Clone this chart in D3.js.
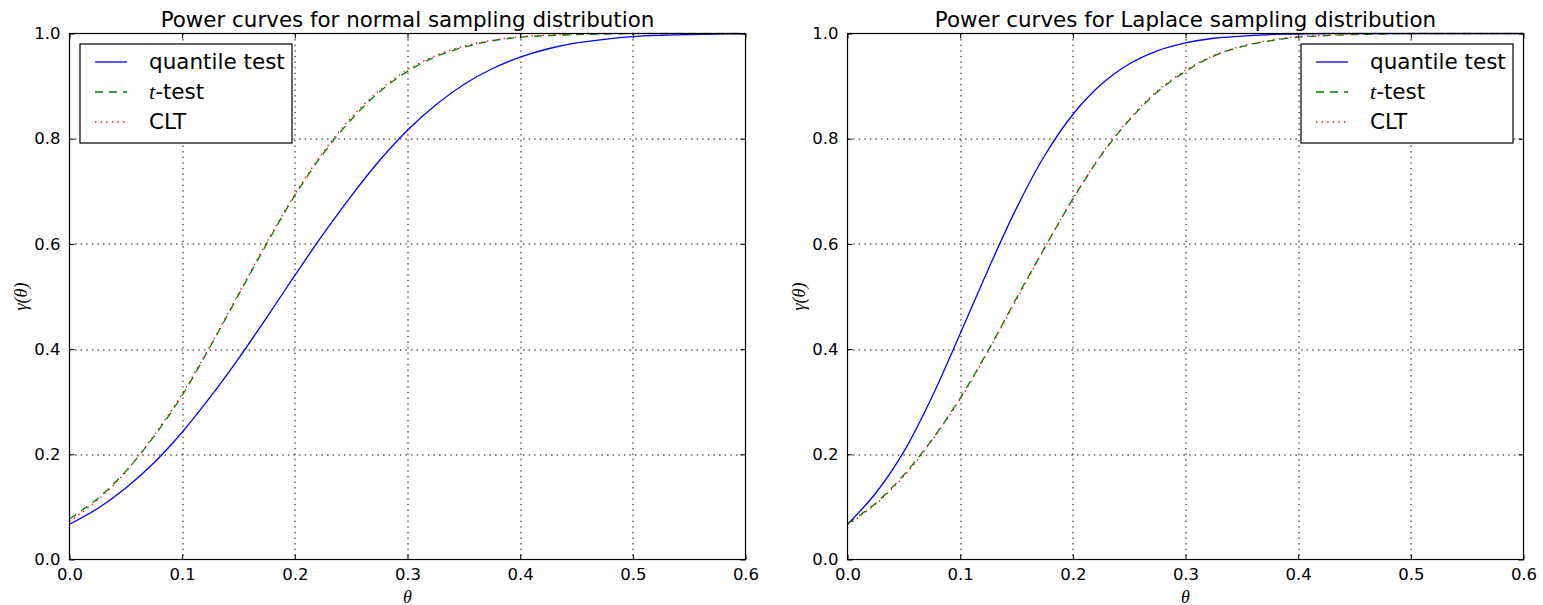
<!DOCTYPE html>
<html>
<head>
<meta charset="utf-8">
<script src="https://cdn.jsdelivr.net/npm/d3@7"></script>
<style>
  html, body { margin: 0; padding: 0; background: #fff; }
  svg { display: block; }
  text { font-family: "DejaVu Sans", sans-serif; fill: #000; }
  .math { font-family: "Liberation Serif", "DejaVu Serif", serif; font-style: italic; }
</style>
</head>
<body>
<svg id="fig" width="1543" height="605"></svg>
<script>
// Shift values θ at which each power curve is evaluated
const theta = [0, 0.025, 0.05, 0.075, 0.1, 0.125, 0.15, 0.175, 0.2, 0.225, 0.25, 0.275,
               0.3, 0.325, 0.35, 0.375, 0.4, 0.425, 0.45, 0.475, 0.5, 0.525, 0.55, 0.575, 0.6];

// Normal sampling distribution
const normalQuantile = [0.067, 0.097, 0.136, 0.184, 0.242, 0.309, 0.382, 0.460, 0.540, 0.618,
                        0.691, 0.758, 0.816, 0.864, 0.903, 0.933, 0.955, 0.971, 0.982, 0.989,
                        0.994, 0.9965, 0.998, 0.999, 0.9995];
const normalT        = [0.077, 0.116, 0.168, 0.234, 0.312, 0.405, 0.503, 0.600, 0.692, 0.771,
                        0.836, 0.889, 0.928, 0.956, 0.974, 0.986, 0.993, 0.996, 0.998, 0.999,
                        1.0, 1.0, 1.0, 1.0, 1.0];
const normalCLT      = [0.072, 0.113, 0.167, 0.236, 0.315, 0.407, 0.505, 0.603, 0.694, 0.774,
                        0.840, 0.892, 0.931, 0.958, 0.976, 0.987, 0.994, 0.997, 0.999, 1.0,
                        1.0, 1.0, 1.0, 1.0, 1.0];

// Laplace sampling distribution
const laplaceQuantile = [0.067, 0.126, 0.205, 0.309, 0.429, 0.552, 0.668, 0.768, 0.846, 0.903,
                         0.942, 0.967, 0.982, 0.991, 0.995, 0.998, 0.999, 1.0, 1.0, 1.0,
                         1.0, 1.0, 1.0, 1.0, 1.0];
const laplaceT        = [0.068, 0.107, 0.161, 0.228, 0.307, 0.398, 0.497, 0.593, 0.685, 0.768,
                         0.835, 0.889, 0.928, 0.957, 0.975, 0.986, 0.993, 0.996, 0.998, 0.999,
                         1.0, 1.0, 1.0, 1.0, 1.0];
const laplaceCLT      = [0.066, 0.105, 0.158, 0.226, 0.305, 0.396, 0.494, 0.592, 0.686, 0.769,
                         0.837, 0.891, 0.930, 0.958, 0.976, 0.987, 0.994, 0.997, 0.999, 1.0,
                         1.0, 1.0, 1.0, 1.0, 1.0];

const xTicks = [0, 0.1, 0.2, 0.3, 0.4, 0.5, 0.6];
const yTicks = [0, 0.2, 0.4, 0.6, 0.8, 1.0];
const seriesNames = ["quantile test", "t-test", "CLT"];

const panels = [
  { title: "Power curves for normal sampling distribution",
    series: [normalQuantile, normalT, normalCLT], left: 69.5, legend: "left" },
  { title: "Power curves for Laplace sampling distribution",
    series: [laplaceQuantile, laplaceT, laplaceCLT], left: 847.5, legend: "right" }
];

const styles = [
  { color: "#0000ff", dash: null },
  { color: "#008000", dash: "8,6" },
  { color: "#ff0000", dash: "1.4,4.2" }
];

const W = 676, H = 526, TOP = 33.5;
const svg = d3.select("#fig");

panels.forEach((p, pi) => {
  const g = svg.append("g").attr("transform", `translate(${p.left},${TOP})`);
  const x = d3.scaleLinear().domain([0, 0.6]).range([0, W]);
  const y = d3.scaleLinear().domain([0, 1]).range([H, 0]);

  // clip region for curves
  const clipId = "clip" + pi;
  g.append("clipPath").attr("id", clipId)
    .append("rect").attr("x", 0).attr("y", -1).attr("width", W).attr("height", H + 1);

  // dotted grid
  const grid = g.append("g");
  grid.selectAll("line.gx").data(xTicks.slice(1, -1)).join("line")
    .attr("x1", d => Math.round(x(d)) + 0.5).attr("x2", d => Math.round(x(d)) + 0.5)
    .attr("y1", 0).attr("y2", H)
    .attr("stroke", "#000").attr("stroke-width", 1).attr("stroke-dasharray", "1.4,4.2");
  grid.selectAll("line.gy").data(yTicks.slice(1, -1)).join("line")
    .attr("y1", d => Math.round(y(d)) + 0.5).attr("y2", d => Math.round(y(d)) + 0.5)
    .attr("x1", 0).attr("x2", W)
    .attr("stroke", "#000").attr("stroke-width", 1).attr("stroke-dasharray", "1.4,4.2");

  // curves
  const line = d3.line()
    .x((d, i) => x(theta[i]))
    .y(d => y(d))
    .curve(d3.curveCatmullRom.alpha(0.5));
  const curves = g.append("g").attr("clip-path", `url(#${clipId})`);
  p.series.forEach((s, si) => {
    curves.append("path").datum(s)
      .attr("d", line)
      .attr("fill", "none")
      .attr("stroke", styles[si].color)
      .attr("stroke-width", 1.3)
      .attr("stroke-dasharray", styles[si].dash);
  });

  // axes with inward ticks on all four sides
  const fmt = d3.format(".1f");
  const axB = d3.axisBottom(x).tickValues(xTicks).tickSizeInner(-5).tickSizeOuter(0).tickPadding(9).tickFormat(fmt);
  const axT = d3.axisTop(x).tickValues(xTicks).tickSizeInner(-5).tickSizeOuter(0).tickFormat("");
  const axL = d3.axisLeft(y).tickValues(yTicks).tickSizeInner(-5).tickSizeOuter(0).tickPadding(9).tickFormat(fmt);
  const axR = d3.axisRight(y).tickValues(yTicks).tickSizeInner(-5).tickSizeOuter(0).tickFormat("");

  const styleAxis = sel => {
    sel.select(".domain").remove();
    sel.selectAll(".tick line").attr("stroke", "#000").attr("stroke-width", 1);
    sel.selectAll(".tick text").style("font-family", "DejaVu Sans").style("font-size", "16.5px").attr("fill", "#000");
  };
  g.append("g").attr("transform", `translate(0,${H})`).call(axB).call(styleAxis);
  g.append("g").call(axT).call(styleAxis);
  g.append("g").call(axL).call(styleAxis);
  g.append("g").attr("transform", `translate(${W},0)`).call(axR).call(styleAxis);

  // frame
  g.append("rect").attr("x", 0).attr("y", 0).attr("width", W).attr("height", H)
    .attr("fill", "none").attr("stroke", "#000").attr("stroke-width", 1.2);

  // title
  g.append("text").attr("x", W / 2).attr("y", -7)
    .attr("text-anchor", "middle").style("font-size", "21.4px").text(p.title);

  // axis labels
  g.append("text").attr("class", "math").attr("x", W / 2).attr("y", H + 43)
    .attr("text-anchor", "middle").style("font-size", "18px").text("θ");
  g.append("text").attr("class", "math")
    .attr("transform", `translate(-43,${H / 2}) rotate(-90)`)
    .attr("text-anchor", "middle").style("font-size", "18px")
    .text("γ(θ)");

  // legend
  const lw = 212, lh = 99;
  const lx = p.legend === "left" ? 10.5 : W - 10.5 - lw;
  const leg = g.append("g").attr("transform", `translate(${lx},10.5)`);
  leg.append("rect").attr("width", lw).attr("height", lh)
    .attr("fill", "#fff").attr("stroke", "#000").attr("stroke-width", 1.2);
  seriesNames.forEach((name, si) => {
    const cy = 18 + si * 30;
    leg.append("line").attr("x1", 15).attr("x2", 47).attr("y1", cy).attr("y2", cy)
      .attr("stroke", styles[si].color).attr("stroke-width", 1.3)
      .attr("stroke-dasharray", styles[si].dash);
    const t = leg.append("text").attr("x", 69).attr("y", cy + 7).style("font-size", "21.5px");
    if (name === "t-test") {
      t.append("tspan").attr("class", "math").style("font-size", "22px").text("t");
      t.append("tspan").text("-test");
    } else {
      t.text(name);
    }
  });
});
</script>
</body>
</html>
